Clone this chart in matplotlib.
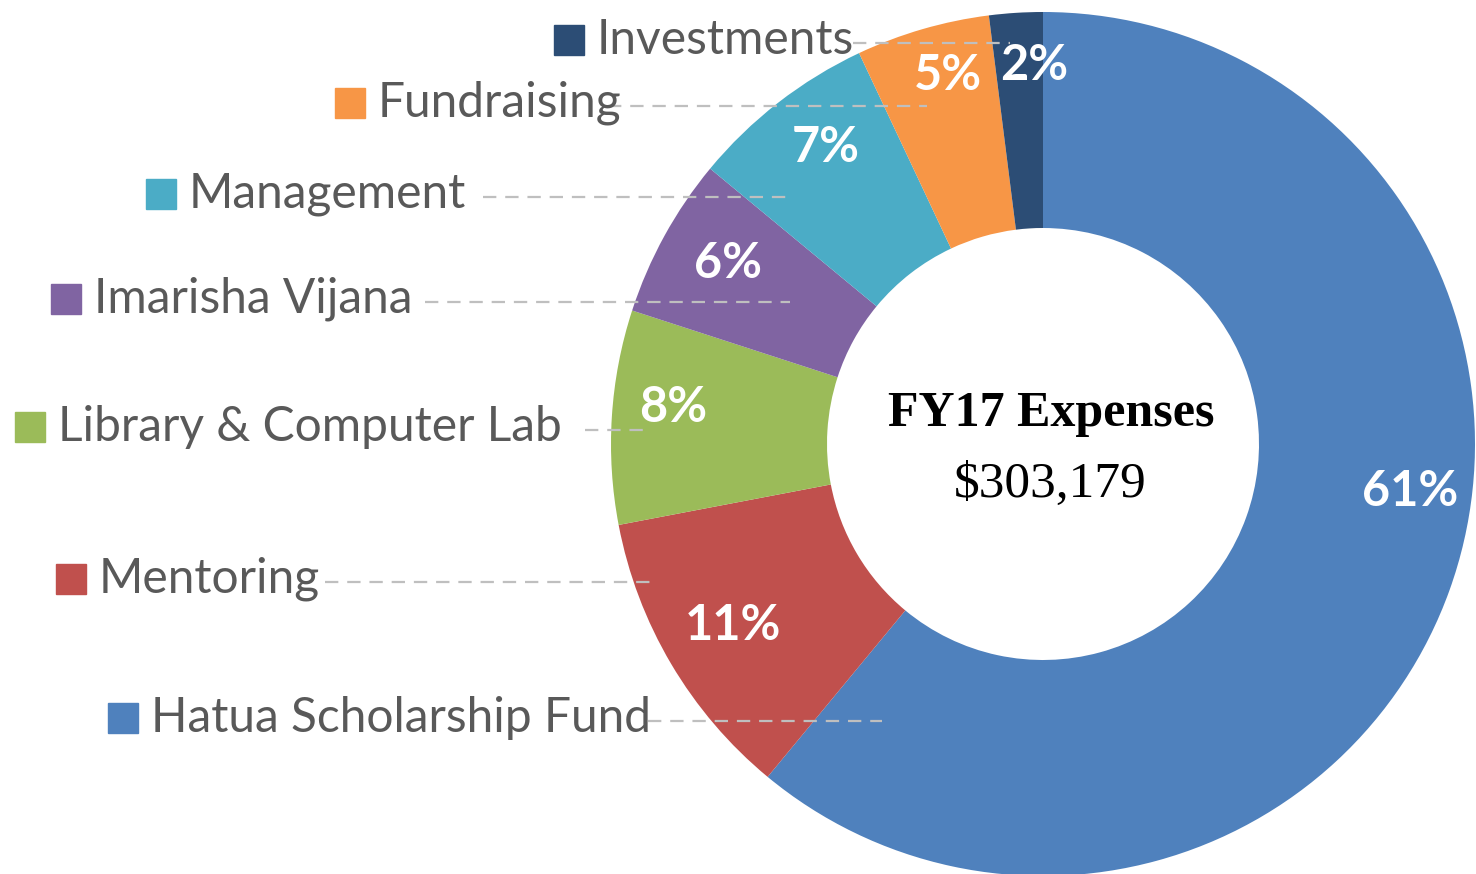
import matplotlib.pyplot as plt

categories = ["Hatua Scholarship Fund", "Mentoring", "Library & Computer Lab",
              "Imarisha Vijana", "Management", "Fundraising", "Investments"]
shares = [61, 11, 8, 6, 7, 5, 2]
pct_labels = ["61%", "11%", "8%", "6%", "7%", "5%", "2%"]
colors = ["#4F81BD", "#C0504D", "#9BBB59", "#8064A2", "#4BACC6", "#F79646", "#2C4D75"]
center_title = "FY17 Expenses"
center_total = "$303,179"

# layout in pixel space (y goes down)
CX, CY, R = 1043, 444, 432
pct_pos = [(1410, 492), (733, 625), (673, 408), (728, 263), (826, 148), (948, 75), (1034, 66)]
# (text left x, text y, leader start x, leader end x)
legend_pos = [(151, 718, 648, 882), (99, 579, 325, 650), (58, 427, 585, 650),
              (94, 299, 425, 790), (189, 194, 483, 790), (378, 103, 608, 927),
              (597, 40, 853, 1010)]

fig = plt.figure(figsize=(14.76, 8.74), dpi=100)
ax = fig.add_axes([0, 0, 1, 1])

ax.pie(shares, colors=colors, center=(CX, CY), radius=R, startangle=-90,
       counterclock=True, wedgeprops=dict(width=R * 0.5, linewidth=0))
ax.set_xlim(0, 1476)
ax.set_ylim(874, 0)
ax.set_aspect("equal")
ax.axis("off")

for lab, (x, y) in zip(pct_labels, pct_pos):
    ax.text(x, y, lab, ha="center", va="center", color="white",
            fontsize=35, fontweight="bold", family="Lato")

for name, col, (tx, ty, lx0, lx1) in zip(categories, colors, legend_pos):
    ax.text(tx, ty, name, ha="left", va="center", color="#595959",
            fontsize=34.5, family="Lato")
    ax.plot([tx - 28], [ty], marker="s", markersize=21, color=col, linestyle="none")
    ax.plot([lx0, lx1], [ty + 3, ty + 3], linestyle=(0, (6, 4)), color="#BFBFBF", linewidth=1.6)

ax.text(1051, 414, center_title, ha="center", va="center", fontsize=36,
        fontweight="bold", family="Liberation Serif", color="black")
ax.text(1050, 485, center_total, ha="center", va="center", fontsize=37,
        family="Liberation Serif", color="black")

fig.savefig("out.png", dpi=100)
